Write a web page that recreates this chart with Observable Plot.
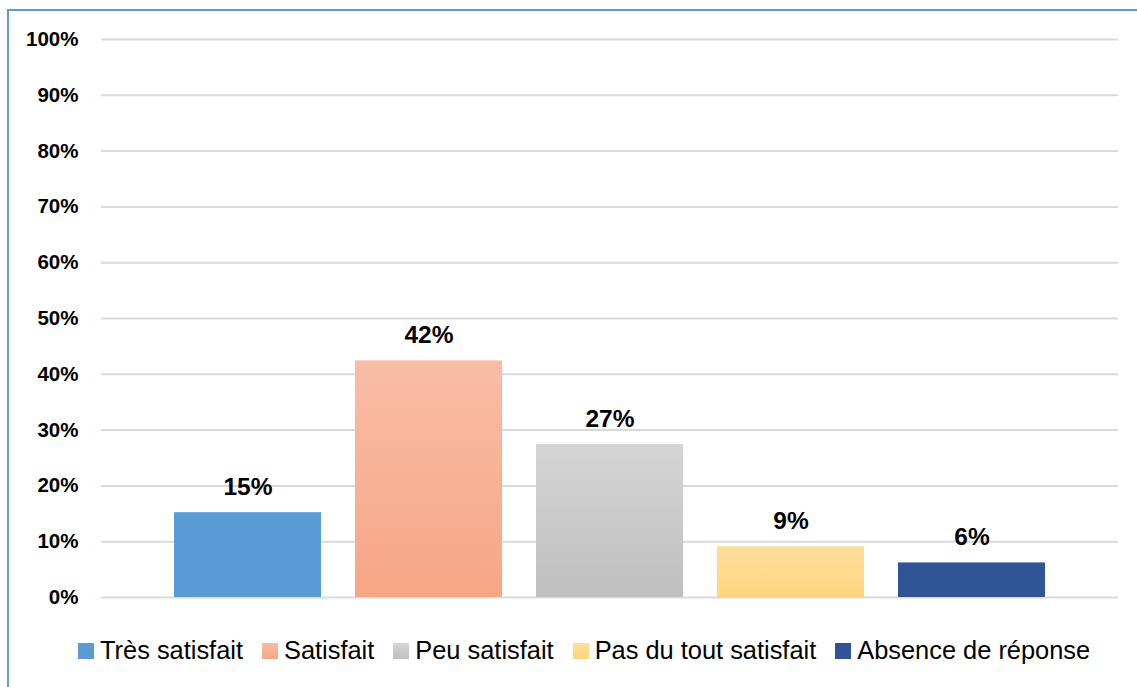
<!DOCTYPE html>
<html>
<head>
<meta charset="utf-8">
<script src="https://cdn.jsdelivr.net/npm/d3@7"></script>
<script src="https://cdn.jsdelivr.net/npm/@observablehq/plot@0.6"></script>
<style>
  html, body { margin: 0; padding: 0; background: #fff; width: 1137px; height: 687px; overflow: hidden; }
  body { font-family: "Liberation Sans", Arial, sans-serif; position: relative; }
  #frame { position: absolute; left: 7px; top: 9px; width: 1200px; height: 800px; border-left: 2px solid #5B9BD5; border-top: 2px solid #5B9BD5; box-sizing: border-box; }
  #chart { position: absolute; left: 0; top: 0; }
  #legend { position: absolute; left: 78px; top: 636px; display: flex; align-items: center; font-size: 25.4px; color: #000; white-space: nowrap; }
  .item { display: flex; align-items: center; margin-right: 19px; }
  .sw { width: 16px; height: 16px; margin-right: 6px; }
</style>
</head>
<body>
<svg width="0" height="0" style="position:absolute">
  <defs id="defs"></defs>
</svg>
<div id="frame"></div>
<div id="chart"></div>
<div id="legend"></div>
<script>
const categories = ["Très satisfait", "Satisfait", "Peu satisfait", "Pas du tout satisfait", "Absence de réponse"];
const values = [15.2, 42.4, 27.4, 9.1, 6.2];
const valueLabels = ["15%", "42%", "27%", "9%", "6%"];
const colorTop = ["#5B9BD5", "#F8BDA6", "#D5D5D5", "#FFDE9C", "#2F5597"];
const colorBottom = ["#5B9BD5", "#F7A684", "#BFBFBF", "#FFD47E", "#2F5597"];
const yTicks = [0, 10, 20, 30, 40, 50, 60, 70, 80, 90, 100];

// gradients
const defs = document.getElementById("defs");
const fills = categories.map((c, i) => {
  if (colorTop[i] === colorBottom[i]) return colorTop[i];
  const id = "grad" + i;
  const g = document.createElementNS("http://www.w3.org/2000/svg", "linearGradient");
  g.setAttribute("id", id);
  g.setAttribute("x1", "0"); g.setAttribute("y1", "0");
  g.setAttribute("x2", "0"); g.setAttribute("y2", "1");
  [[0, colorTop[i]], [1, colorBottom[i]]].forEach(([o, col]) => {
    const s = document.createElementNS("http://www.w3.org/2000/svg", "stop");
    s.setAttribute("offset", o);
    s.setAttribute("stop-color", col);
    g.appendChild(s);
  });
  defs.appendChild(g);
  return `url(#${id})`;
});

const data = categories.map((c, i) => ({cat: c, value: values[i], label: valueLabels[i]}));

const chart = Plot.plot({
  width: 1137,
  height: 620,
  marginLeft: 101,
  marginRight: 19,
  marginTop: 39,
  marginBottom: 23,
  style: {fontFamily: '"Liberation Sans", Arial, sans-serif', background: "transparent", overflow: "visible"},
  x: {domain: categories, paddingInner: 0.189, paddingOuter: 0.403, axis: null},
  y: {domain: [0, 100], axis: null},
  color: {domain: categories, range: fills},
  marks: [
    Plot.ruleY(yTicks, {stroke: "#D9D9D9", strokeWidth: 2}),
    Plot.axisY({ticks: yTicks, tickSize: 0, tickPadding: 23, tickFormat: d => d + "%", fontSize: 20.5, fontWeight: "bold", fill: "#000", label: null}),
    Plot.barY(data, {x: "cat", y: "value", fill: "cat"}),
    Plot.text(data, {x: "cat", y: "value", text: "label", dy: -18, lineAnchor: "bottom", fontSize: 24.5, fontWeight: "bold", fill: "#000"})
  ]
});
document.getElementById("chart").appendChild(chart);

// legend
const legend = document.getElementById("legend");
categories.forEach((c, i) => {
  const item = document.createElement("div");
  item.className = "item";
  const sw = document.createElement("span");
  sw.className = "sw";
  sw.style.background = colorTop[i] === colorBottom[i] ? colorTop[i] : `linear-gradient(${colorTop[i]}, ${colorBottom[i]})`;
  const t = document.createElement("span");
  t.textContent = c;
  item.appendChild(sw); item.appendChild(t);
  legend.appendChild(item);
});
</script>
</body>
</html>
